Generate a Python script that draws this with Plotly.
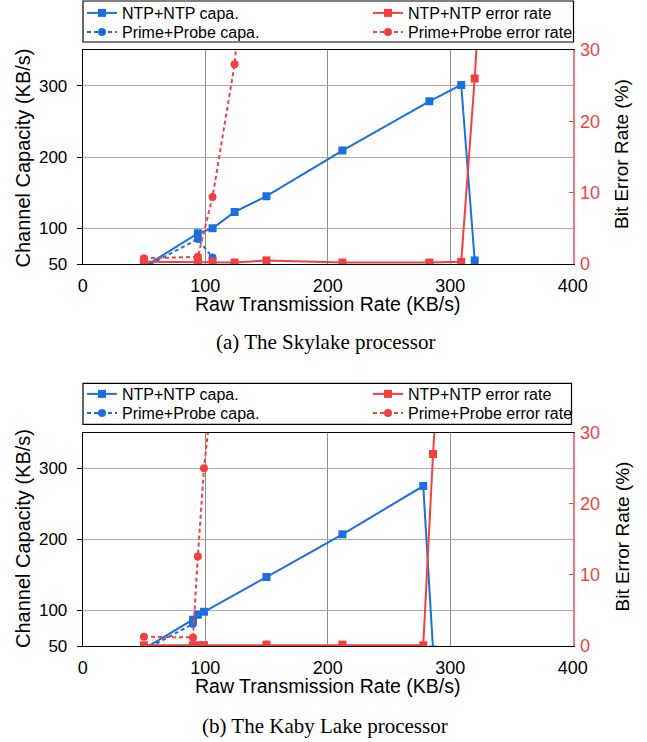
import plotly.graph_objects as go

W, H = 647, 742
BLUE = "#1d6fdf"
RED = "#f23f3f"
RED_AXIS = "#f07a7a"

# ---------------- data (a) Skylake ----------------
sky_ntp_x = [50, 94, 106, 124, 150, 212, 283, 309, 320]
sky_ntp_capa = [46, 93, 100, 123, 145, 209, 278, 301, 55]
sky_ntp_err_x = [50, 94, 106, 124, 150, 212, 283, 309, 320, 330]
sky_ntp_err = [0.3, 0.3, 0.3, 0.2, 0.5, 0.2, 0.2, 0.3, 26.0, 55.0]
sky_pp_x = [50, 94, 106]
sky_pp_capa = [45, 85, 59]
sky_pp_err_x = [50, 94, 106, 124, 150]
sky_pp_err = [0.8, 1.0, 9.4, 28.0, 76.0]

# ---------------- data (b) Kaby Lake ----------------
kaby_ntp_x = [50, 90, 94, 99, 150, 212, 278, 286]
kaby_ntp_capa = [46, 87, 94, 98, 147, 207, 275, 45]
kaby_ntp_err_x = [50, 90, 94, 99, 150, 212, 278, 286, 290]
kaby_ntp_err = [0.1, 0.1, 0.1, 0.1, 0.2, 0.2, 0.1, 27.0, 38.0]
kaby_pp_x = [50, 90]
kaby_pp_capa = [44, 81]
kaby_pp_err_x = [50, 90, 94, 99, 106]
kaby_pp_err = [1.3, 1.2, 12.6, 25.0, 36.0]

x_ticks = [0, 100, 200, 300, 400]
cap_ticks = [50, 100, 200, 300]
err_ticks = [0, 10, 20, 30]

names = ["NTP+NTP capa.", "Prime+Probe capa.", "NTP+NTP error rate", "Prime+Probe error rate"]
captions = ["(a) The Skylake processor", "(b) The Kaby Lake processor"]


def py(p):
    return 1 - p / H


def px(p):
    return p / W


fig = go.Figure()


def add(x, y, xa, ya, color, dash, symbol, name, legend):
    fig.add_trace(go.Scatter(
        x=x, y=y, xaxis=xa, yaxis=ya, mode="lines+markers",
        line=dict(color=color, width=2, dash=dash),
        marker=dict(color=color, size=8, symbol=symbol),
        name=name, legend=legend, cliponaxis=True))


DOT = "4px,3px"
add(sky_ntp_x, sky_ntp_capa, "x", "y", BLUE, "solid", "square", names[0], "legend")
add(sky_pp_x, sky_pp_capa, "x", "y", BLUE, DOT, "circle", names[1], "legend2")
add(sky_ntp_err_x, sky_ntp_err, "x", "y2", RED, "solid", "square", names[2], "legend3")
add(sky_pp_err_x, sky_pp_err, "x", "y2", RED, DOT, "circle", names[3], "legend4")

add(kaby_ntp_x, kaby_ntp_capa, "x2", "y3", BLUE, "solid", "square", names[0], "legend5")
add(kaby_pp_x, kaby_pp_capa, "x2", "y3", BLUE, DOT, "circle", names[1], "legend6")
add(kaby_ntp_err_x, kaby_ntp_err, "x2", "y4", RED, "solid", "square", names[2], "legend7")
add(kaby_pp_err_x, kaby_pp_err, "x2", "y4", RED, DOT, "circle", names[3], "legend8")

XDOM = [px(82.7), px(572.7)]
TOP_DOM = [py(264), py(50)]
BOT_DOM = [py(646), py(432.7)]
TICKFONT = dict(family="Liberation Sans, Arial, sans-serif", size=18, color="black")


def xaxis(anchor):
    return dict(domain=XDOM, anchor=anchor, range=[0, 400], tickvals=x_ticks,
                showgrid=True, gridcolor="#8c8c8c", gridwidth=1, zeroline=False,
                showline=True, linecolor="black", linewidth=1, mirror=True,
                ticks="", tickfont=TICKFONT, ticklabelstandoff=5)


def yaxis(anchor, dom):
    return dict(domain=dom, anchor=anchor, range=[50, 350], tickvals=cap_ticks,
                showgrid=True, gridcolor="#ababab", gridwidth=1, zeroline=False,
                showline=True, linecolor="black", linewidth=1,
                ticks="outside", ticklen=5, tickcolor="black",
                tickfont=dict(family="Liberation Sans, Arial, sans-serif", size=17, color="black"),
                ticklabelstandoff=6)


def y2axis(anchor, over):
    return dict(overlaying=over, anchor=anchor, side="right", range=[0, 30],
                tickvals=err_ticks, showgrid=False, zeroline=False,
                showline=True, linecolor=RED_AXIS, linewidth=1.5,
                ticks="inside", ticklen=4, tickcolor=RED,
                tickfont=dict(family="Liberation Sans, Arial, sans-serif", size=18, color=RED),
                ticklabelstandoff=2)


LEGFONT = dict(family="Liberation Sans, Arial, sans-serif", size=16, color="black")


def legend(x, y):
    return dict(x=px(x), y=py(y), xanchor="left", yanchor="middle", orientation="v",
                bgcolor="rgba(0,0,0,0)", borderwidth=0, font=LEGFONT,
                itemwidth=30, tracegroupgap=0)


ann = []
for (tx, ty, ly, ry, cap) in [
    (304, 158.5, 154, 341.7, captions[0]),
    (686, 539, 536.5, 726, captions[1]),
]:
    ann.append(dict(text="Raw Transmission Rate (KB/s)", x=px(328), y=py(tx), xref="paper", yref="paper",
                    showarrow=False, xanchor="center", yanchor="middle",
                    font=dict(family="Liberation Sans, Arial, sans-serif", size=19.5, color="black")))
    ann.append(dict(text="Channel Capacity (KB/s)", x=px(23), y=py(ty), xref="paper", yref="paper",
                    showarrow=False, xanchor="center", yanchor="middle", textangle=-90,
                    font=dict(family="Liberation Sans, Arial, sans-serif", size=20, color="black")))
    ann.append(dict(text="Bit Error Rate (%)", x=px(622), y=py(ly), xref="paper", yref="paper",
                    showarrow=False, xanchor="center", yanchor="middle", textangle=-90,
                    font=dict(family="Liberation Sans, Arial, sans-serif", size=19, color="black")))
    ann.append(dict(text=cap, x=px(325), y=py(ry), xref="paper", yref="paper",
                    showarrow=False, xanchor="center", yanchor="middle",
                    font=dict(family="Liberation Serif, Times New Roman, serif", size=21, color="black")))

shapes = [
    dict(type="rect", xref="paper", yref="paper", x0=px(83), x1=px(573.5), y0=py(42), y1=py(1),
         line=dict(color="black", width=1.2), fillcolor="rgba(0,0,0,0)", layer="above"),
    dict(type="rect", xref="paper", yref="paper", x0=px(83), x1=px(571.5), y0=py(424.3), y1=py(383.3),
         line=dict(color="black", width=1.2), fillcolor="rgba(0,0,0,0)", layer="above"),
]

LX, RX = 82, 368
fig.update_layout(
    width=W, height=H, margin=dict(l=0, r=0, t=0, b=0, autoexpand=False),
    paper_bgcolor="white", plot_bgcolor="white",
    xaxis=xaxis("y"), yaxis=yaxis("x", TOP_DOM), yaxis2=y2axis("x", "y"),
    xaxis2=xaxis("y3"), yaxis3=yaxis("x2", BOT_DOM), yaxis4=y2axis("x2", "y3"),
    legend=legend(LX, 13), legend2=legend(LX, 32),
    legend3=legend(RX, 13), legend4=legend(RX, 32),
    legend5=legend(LX, 394), legend6=legend(LX, 413),
    legend7=legend(RX, 394), legend8=legend(RX, 413),
    annotations=ann, shapes=shapes, showlegend=True,
)

fig.write_html(
    "out.html",
    config={"displayModeBar": False},
    post_script="document.body.style.margin='0';document.body.style.padding='0';",
)
